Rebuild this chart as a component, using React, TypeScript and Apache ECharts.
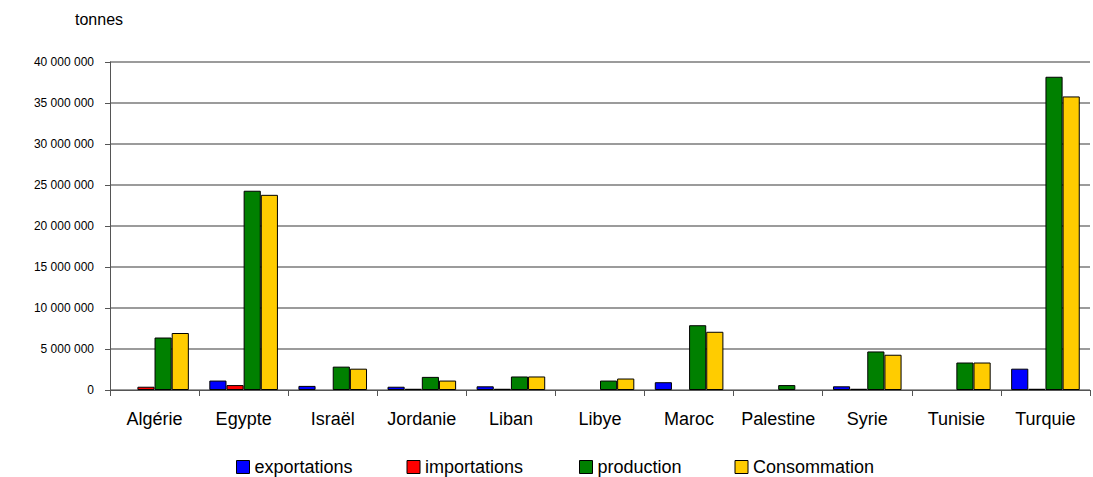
import React, { useEffect, useRef } from "react";
import * as echarts from "echarts";

const countries = ["Algérie", "Egypte", "Israël", "Jordanie", "Liban", "Libye", "Maroc", "Palestine", "Syrie", "Tunisie", "Turquie"];
// null = no value reported
const exportations = [null, 1150000, 500000, 400000, 450000, null, 950000, null, 450000, null, 2600000];
const importations = [400000, 600000, null, 150000, 150000, null, null, null, 150000, null, 150000];
const production = [6400000, 24300000, 2850000, 1600000, 1650000, 1150000, 7900000, 600000, 4700000, 3350000, 38200000];
const consommation = [6950000, 23800000, 2600000, 1150000, 1650000, 1400000, 7100000, null, 4300000, 3350000, 35800000];

const seriesNames = ["exportations", "importations", "production", "Consommation"];
const seriesColors = ["#0000ff", "#ff0000", "#008000", "#ffcc00"];
const legendKeys = ["e", "i", "p", "c"];

const fmt = (v: number) => String(Math.round(v)).replace(/\B(?=(\d{3})+(?!\d))/g, " ");

export default function App() {
  const ref = useRef<HTMLDivElement>(null);
  useEffect(() => {
    const chart = echarts.init(ref.current!, null, { renderer: "svg" });
    const font = "Liberation Sans, Arial, sans-serif";
    const data = [exportations, importations, production, consommation];
    const legendText = { fontSize: 18, color: "#000", fontFamily: font, lineHeight: 18 };
    chart.setOption({
      animation: false,
      backgroundColor: "#ffffff",
      textStyle: { fontFamily: font },
      grid: { left: 110, right: 3, top: 62, bottom: 87, containLabel: false },
      legend: {
        top: 458,
        left: 236,
        padding: 0,
        itemWidth: 13,
        itemHeight: 13,
        itemGap: 36,
        icon: "rect",
        formatter: (name: string) => `{${legendKeys[seriesNames.indexOf(name)]}|${name}}`,
        textStyle: {
          ...legendText,
          rich: {
            e: { ...legendText, width: 116 },
            i: { ...legendText, width: 118 },
            p: { ...legendText, width: 101 },
            c: { ...legendText, width: 143 },
          },
        },
        data: seriesNames.map((name, i) => ({
          name,
          itemStyle: { color: seriesColors[i], borderColor: "#000", borderWidth: 1 },
        })),
      },
      graphic: [
        { type: "text", left: 75, top: 11, style: { text: "tonnes", fontSize: 16, fill: "#000", fontFamily: font } },
      ],
      xAxis: {
        type: "category",
        data: countries,
        axisLine: { lineStyle: { color: "#555", width: 1 } },
        axisTick: { show: true, length: 6, lineStyle: { color: "#555" } },
        axisLabel: { color: "#000", fontSize: 18, margin: 20, interval: 0, fontFamily: font },
      },
      yAxis: {
        type: "value",
        min: 0,
        max: 40000000,
        interval: 5000000,
        axisLine: { show: true, lineStyle: { color: "#555", width: 1 } },
        axisTick: { show: true, length: 5, lineStyle: { color: "#555" } },
        splitLine: { lineStyle: { color: "#7a7a7a", width: 1.5 } },
        axisLabel: { color: "#000", fontSize: 12, margin: 16, formatter: fmt, fontFamily: font },
      },
      series: seriesNames.map((name, i) => ({
        name,
        type: "bar",
        data: data[i],
        barGap: "0%",
        barCategoryGap: "23%",
        itemStyle: { color: seriesColors[i], borderColor: "#000", borderWidth: 1 },
      })),
    });
    return () => chart.dispose();
  }, []);
  return <div ref={ref} style={{ width: 1093, height: 477, position: "absolute", left: 0, top: 0 }} />;
}
